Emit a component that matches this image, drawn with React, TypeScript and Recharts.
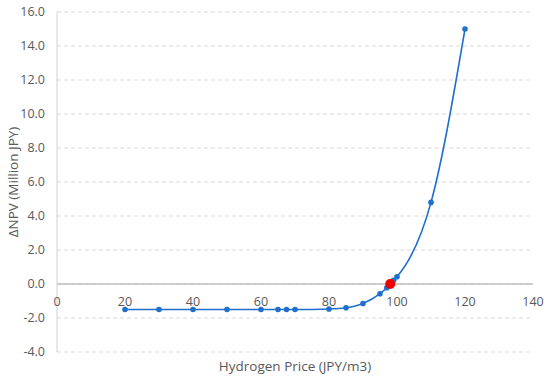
import React from "react";
import {
  ComposedChart,
  Line,
  Scatter,
  XAxis,
  YAxis,
  CartesianGrid,
  ReferenceLine,
} from "recharts";

// hydrogen price (JPY/m3) vs delta NPV (million JPY)
const prices = [20, 30, 40, 50, 60, 65, 67.5, 70, 80, 85, 90, 95, 97, 98, 99, 100, 110, 120];
const npv = [-1.5, -1.5, -1.5, -1.5, -1.5, -1.5, -1.5, -1.5, -1.47, -1.4, -1.15, -0.57, -0.22, 0, 0.22, 0.43, 4.8, 15.0];
const breakEven = [{ x: 98, y: 0 }];

const xTicks = [0, 20, 40, 60, 80, 100, 120, 140];
const yTicks = [-4, -2, 0, 2, 4, 6, 8, 10, 12, 14, 16];

const W = 550;
const H = 378;
const M = { top: 12, right: 17, left: 0, bottom: 0 };
const X_AXIS_H = 26;
const Y_MIN = -4;
const Y_MAX = 16;

const data = prices.map((p, i) => ({ x: p, y: npv[i] }));

const textColor = "#595959";
const font = "'Open Sans', 'Liberation Sans', sans-serif";

// x tick labels sit just under the zero line, like Excel does it
function XTick(props: any) {
  const { x, y, payload } = props;
  const plotH = H - M.top - M.bottom - X_AXIS_H;
  const zeroOffset = (plotH * (0 - Y_MIN)) / (Y_MAX - Y_MIN);
  return (
    <text
      x={x}
      y={y - zeroOffset + 15}
      textAnchor="middle"
      dominantBaseline="central"
      fill={textColor}
      fontSize={12.5}
      fontFamily={font}
    >
      {payload.value}
    </text>
  );
}

export default function App() {
  return (
    <div style={{ position: "absolute", left: 0, top: 0 }}>
      <ComposedChart width={W} height={H} data={data} margin={M}>
        <CartesianGrid vertical={false} stroke="#d9d9d9" strokeDasharray="4 3" />
        <XAxis
          type="number"
          dataKey="x"
          domain={[0, 140]}
          ticks={xTicks}
          height={X_AXIS_H}
          axisLine={false}
          tickLine={false}
          tickSize={0}
          tick={<XTick />}
          label={{
            value: "Hydrogen Price (JPY/m3)",
            position: "insideBottom",
            offset: 7,
            fill: textColor,
            fontSize: 13.5,
            fontFamily: font,
          }}
        />
        <YAxis
          type="number"
          domain={[Y_MIN, Y_MAX]}
          ticks={yTicks}
          width={57}
          axisLine={{ stroke: "#d0d0d0" }}
          tickLine={false}
          tickMargin={6}
          tickFormatter={(v: number) => v.toFixed(1)}
          tick={{ fill: textColor, fontSize: 12.5, fontFamily: font }}
          label={{
            value: "\u0394NPV (Million JPY)",
            angle: -90,
            position: "insideLeft",
            offset: 13,
            style: { textAnchor: "middle" },
            fill: textColor,
            fontSize: 13.5,
            fontFamily: font,
          }}
        />
        <ReferenceLine y={0} stroke="#bfbfbf" strokeWidth={1.3} />
        <Line
          type="monotone"
          dataKey="y"
          stroke="#1f6fcc"
          strokeWidth={1.6}
          dot={{ r: 2.8, fill: "#1f6fcc", stroke: "#1f6fcc", strokeWidth: 0 }}
          activeDot={false}
          isAnimationActive={false}
        />
        <Scatter
          data={breakEven}
          dataKey="y"
          fill="#ee0000"
          shape={(p: any) => <circle cx={p.cx} cy={p.cy} r={5} fill="#ee0000" />}
          isAnimationActive={false}
        />
      </ComposedChart>
    </div>
  );
}
